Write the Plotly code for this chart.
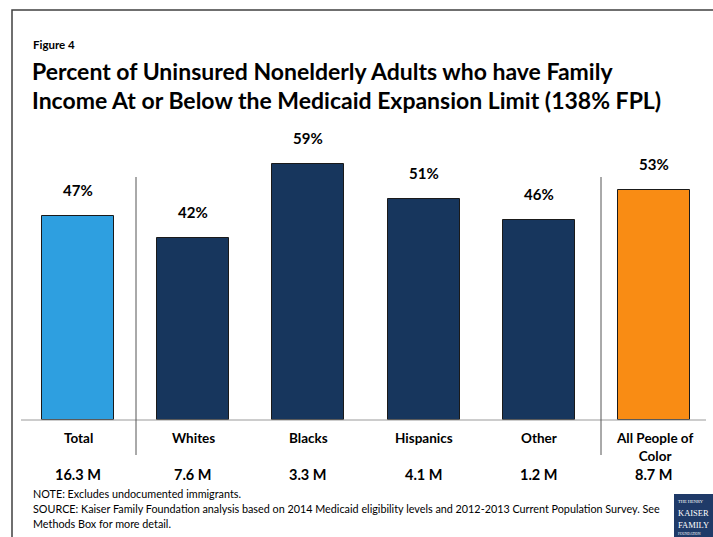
import plotly.graph_objects as go

categories = ["Total", "Whites", "Blacks", "Hispanics", "Other", "All People of<br>Color"]
percent_values = [47, 42, 59, 51, 46, 53]
counts = ["16.3 M", "7.6 M", "3.3 M", "4.1 M", "1.2 M", "8.7 M"]
bar_colors = ["#2E9FE0", "#17365D", "#17365D", "#17365D", "#17365D", "#F98C14"]

W, H = 713, 537
FONT = "Lato"
x_idx = list(range(len(categories)))

# full-figure axes: px -> data mapping
X0, DX = 78.0, 115.2      # center of first bar, spacing (px)
Y0, DY = 420.0, 4.34      # baseline pixel, px per percent
xr = [(0 - X0) / DX, (W - X0) / DX]
yr = [(Y0 - H) / DY, (Y0 - 0) / DY]

def px(x):
    return (x - X0) / DX

def py(y):
    return (Y0 - y) / DY

fig = go.Figure()
fig.add_trace(go.Bar(
    x=x_idx, y=percent_values, width=0.625,
    marker=dict(color=bar_colors, line=dict(color="#1a1a1a", width=1)),
    hoverinfo="skip", showlegend=False,
))

ann = []
for i, (v, c, n) in enumerate(zip(percent_values, categories, counts)):
    ann.append(dict(x=i, y=v, text=f"<b>{v}%</b>", showarrow=False, yanchor="bottom",
                    yshift=15, font=dict(size=15, color="#000", family=FONT)))
    ann.append(dict(x=i, y=py(428), text=f"<b>{c}</b>", showarrow=False, yanchor="top",
                    font=dict(size=13.5, color="#000", family=FONT)))
    ann.append(dict(x=i, y=py(474), text=f"<b>{n}</b>", showarrow=False, yanchor="middle",
                    font=dict(size=14.5, color="#000", family=FONT)))

def paper_text(x, y, text, size, bold=False, color="#000", family=FONT, anchor="left"):
    return dict(xref="paper", yref="paper", x=x / W, y=1 - y / H, text=(f"<b>{text}</b>" if bold else text),
                showarrow=False, xanchor=anchor, yanchor="middle", align="left",
                font=dict(size=size, color=color, family=family))

ann.append(paper_text(31, 45, "Figure 4", 11.5, bold=True))
ann.append(paper_text(30, 71, "Percent of Uninsured Nonelderly Adults who have Family", 23, bold=True))
ann.append(paper_text(30, 100, "Income At or Below the Medicaid Expansion Limit (138% FPL)", 23, bold=True))
ann.append(paper_text(31, 493, "NOTE: Excludes undocumented immigrants.", 10.8))
ann.append(paper_text(31, 508, "SOURCE: Kaiser Family Foundation analysis based on 2014 Medicaid eligibility levels and 2012-2013 Current Population Survey. See", 10.8))
ann.append(paper_text(31, 523, "Methods Box for more detail.", 10.8))

# logo text
for yy, t, s in [(501, "THE HENRY", 4.5), (513, "KAISER", 8.5), (525, "FAMILY", 8.5), (534, "FOUNDATION", 3.5)]:
    ann.append(paper_text(676, yy, t, s, color="#ffffff", family="Liberation Serif"))

shapes = [
    # frame
    dict(type="rect", xref="paper", yref="paper", x0=12 / W, x1=1.02, y0=-0.02, y1=1 - 10 / H,
         line=dict(color="#404040", width=1.5), fillcolor="rgba(0,0,0,0)"),
    # baseline
    dict(type="line", x0=px(21), x1=px(706), y0=0, y1=0, line=dict(color="#9a9a9a", width=1)),
    # separators
    dict(type="line", x0=px(136), x1=px(136), y0=py(177), y1=py(455), line=dict(color="#555", width=1)),
    dict(type="line", x0=px(601), x1=px(601), y0=py(177), y1=py(455), line=dict(color="#555", width=1)),
    # logo box
    dict(type="rect", xref="paper", yref="paper", x0=674 / W, x1=1.0, y0=0, y1=1 - 494 / H,
         line=dict(width=0), fillcolor="#1f3a68"),
]

fig.update_layout(
    width=W, height=H, margin=dict(l=0, r=0, t=0, b=0),
    paper_bgcolor="white", plot_bgcolor="white",
    xaxis=dict(range=xr, visible=False, fixedrange=True),
    yaxis=dict(range=yr, visible=False, fixedrange=True),
    annotations=ann, shapes=shapes, bargap=0,
)

fig.write_html("out.html")
